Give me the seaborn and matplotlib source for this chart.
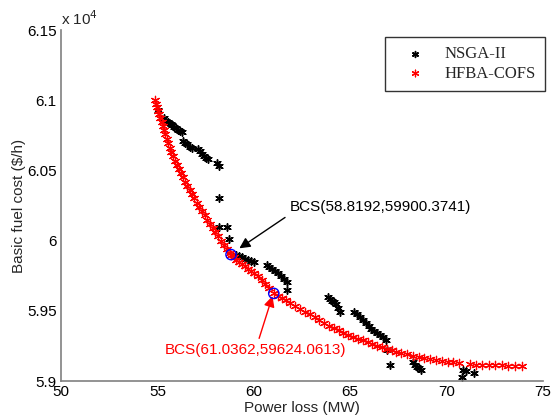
import matplotlib
matplotlib.use("Agg")
import matplotlib.pyplot as plt
import seaborn as sns
import pandas as pd

# ---------------- data ----------------
hfba_x = [54.90, 54.95, 55.00, 55.05, 55.10, 55.15, 55.22, 55.28, 55.35, 55.42,
          55.50, 55.57, 55.65, 55.73, 55.82, 55.92, 56.02, 56.12, 56.22, 56.33,
          56.45, 56.56, 56.68, 56.80, 56.92, 57.05, 57.18, 57.30, 57.45, 57.58,
          57.72, 57.86, 58.00, 58.15, 58.30, 58.45, 58.60, 58.75, 58.82, 58.95,
          59.10, 59.25, 59.40, 59.55, 59.70, 59.85, 60.00, 60.20, 60.40, 60.60,
          60.80, 61.04, 61.25, 61.45, 61.65, 61.90, 62.15, 62.40, 62.65, 62.90,
          63.15, 63.40, 63.65, 63.90, 64.15, 64.40, 64.65, 64.90, 65.15, 65.40,
          65.65, 65.90, 66.15, 66.40, 66.65, 66.90, 67.15, 67.40, 67.65, 67.95,
          68.25, 68.55, 68.85, 69.15, 69.45, 69.75, 70.05, 70.35, 70.65, 71.20,
          71.50, 71.85, 72.20, 72.50, 72.85, 73.20, 73.55, 73.90]
hfba_y = [61000, 60975, 60950, 60925, 60900, 60875, 60845, 60815, 60790, 60760,
          60725, 60695, 60660, 60630, 60600, 60570, 60540, 60510, 60485, 60455,
          60420, 60390, 60360, 60330, 60300, 60270, 60240, 60210, 60180, 60150,
          60120, 60090, 60060, 60030, 60000, 59970, 59940, 59915, 59900, 59885,
          59865, 59850, 59835, 59820, 59800, 59785, 59770, 59745, 59720, 59690,
          59660, 59624, 59605, 59590, 59575, 59555, 59535, 59515, 59495, 59475,
          59455, 59435, 59415, 59395, 59380, 59360, 59345, 59330, 59315, 59300,
          59290, 59275, 59265, 59250, 59240, 59230, 59220, 59210, 59200, 59190,
          59180, 59170, 59162, 59155, 59148, 59142, 59138, 59133, 59128, 59118,
          59116, 59114, 59113, 59112, 59111, 59110, 59110, 59109]

nsga_x = [55.05, 55.35, 55.45, 55.55, 55.62, 55.70, 55.78, 55.85, 55.95, 56.05,
          56.15, 56.25, 56.32, 56.45, 56.55, 56.70, 56.80, 57.10, 57.20, 57.30,
          57.40, 57.50, 57.60, 58.10, 58.20, 58.20, 58.20, 58.60, 58.72, 59.10,
          59.25, 59.40, 59.55, 59.70, 59.85, 60.00, 60.70, 60.80, 60.95, 61.10,
          61.25, 61.40, 61.55, 61.70, 61.70, 63.85, 63.95, 64.05, 64.15, 64.25,
          64.35, 64.45, 65.20, 65.35, 65.50, 65.65, 65.80, 65.95, 66.10, 66.25,
          66.40, 66.55, 66.70, 66.85, 66.90, 67.05, 68.25, 68.35, 68.45, 68.55,
          68.65, 70.85, 71.00, 71.40, 70.80]
nsga_y = [60930, 60870, 60855, 60845, 60838, 60830, 60820, 60812, 60800, 60790,
          60780, 60770, 60707, 60695, 60685, 60670, 60660, 60650, 60635, 60620,
          60605, 60590, 60578, 60555, 60530, 60300, 60100, 60100, 60010, 59900,
          59890, 59880, 59870, 59862, 59852, 59845, 59829, 59815, 59800, 59785,
          59770, 59745, 59725, 59707, 59650, 59600, 59585, 59570, 59560, 59545,
          59520, 59495, 59495, 59475, 59455, 59435, 59410, 59390, 59370, 59355,
          59340, 59325, 59310, 59295, 59221, 59114, 59135, 59115, 59100, 59090,
          59080, 59075, 59070, 59057, 59029]

bcs_x = [58.8192, 61.0362]
bcs_y = [59900.3741, 59624.0613]
bcs_labels = ["BCS(58.8192,59900.3741)", "BCS(61.0362,59624.0613)"]

x_ticks = [50, 55, 60, 65, 70, 75]
y_ticks = [59000, 59500, 60000, 60500, 61000, 61500]
y_tick_labels = ["5.9", "5.95", "6", "6.05", "6.1", "6.15"]

# ---------------- plot ----------------
sns.set_style("white")
plt.rcParams["font.family"] = ["Liberation Sans", "DejaVu Sans"]

fig = plt.figure(figsize=(5.51, 4.19), dpi=100)
ax = fig.add_axes([61 / 551, 38 / 419, 482 / 551, 351 / 419])

star = (6, 2, 0)
df_n = pd.DataFrame({"x": nsga_x, "y": nsga_y})
df_h = pd.DataFrame({"x": hfba_x, "y": hfba_y})
sns.scatterplot(data=df_n, x="x", y="y", ax=ax, marker=star, s=28,
                color="black", edgecolor="#111111", linewidth=1.1, label="NSGA-II")
sns.scatterplot(data=df_h, x="x", y="y", ax=ax, marker=star, s=36,
                color="red", edgecolor="red", linewidth=0.9, label="HFBA-COFS")
ax.scatter(bcs_x, bcs_y, s=55, facecolors="none", edgecolors="blue", linewidths=1.0, zorder=5)

# annotations
ax.annotate(bcs_labels[0], xy=(59.25, 59945), xytext=(61.85, 60236),
            fontsize=11, color="black", ha="left", va="center",
            arrowprops=dict(arrowstyle="-|>", color="black", lw=1.0,
                            mutation_scale=16, shrinkA=1, shrinkB=0,
                            relpos=(0.0, 0.0)))
ax.annotate(bcs_labels[1], xy=(60.97, 59605), xytext=(55.4, 59221),
            fontsize=11, color="red", ha="left", va="center",
            arrowprops=dict(arrowstyle="-|>", color="red", lw=1.0,
                            mutation_scale=16, shrinkA=1, shrinkB=0,
                            relpos=(0.51, 1.0)))

ax.set_xlim(50, 75)
ax.set_ylim(59000, 61500)
ax.set_xticks(x_ticks)
ax.set_xticklabels([str(t) for t in x_ticks])
ax.set_yticks(y_ticks)
ax.set_yticklabels(y_tick_labels)
ax.tick_params(direction="in", length=4, width=0.8, color="#808080",
               labelsize=11, labelcolor="black", pad=3)

for s in ["top", "right"]:
    ax.spines[s].set_visible(False)
for s in ["left", "bottom"]:
    ax.spines[s].set_color("#808080")
    ax.spines[s].set_linewidth(1.2)

ax.set_xlabel("Power loss (MW)", fontsize=11, labelpad=1)
ax.set_ylabel(r"Basic fuel cost (\$/h)", fontsize=11, labelpad=1)
ax.text(0.0, 1.005, r"x 10$^{4}$", transform=ax.transAxes, fontsize=11,
        ha="left", va="bottom")

leg = ax.legend(loc="upper right", bbox_to_anchor=(545 / 551, 1 - 37 / 419),
                bbox_transform=fig.transFigure, frameon=True, fancybox=False,
                prop={"family": "Liberation Serif", "size": 12},
                borderpad=0.55, handletextpad=0.6, labelspacing=0.2,
                handlelength=2.4, borderaxespad=0, markerscale=0.8)
leg.get_frame().set_edgecolor("black")
leg.get_frame().set_linewidth(1.0)

fig.savefig("out.png", dpi=100)
